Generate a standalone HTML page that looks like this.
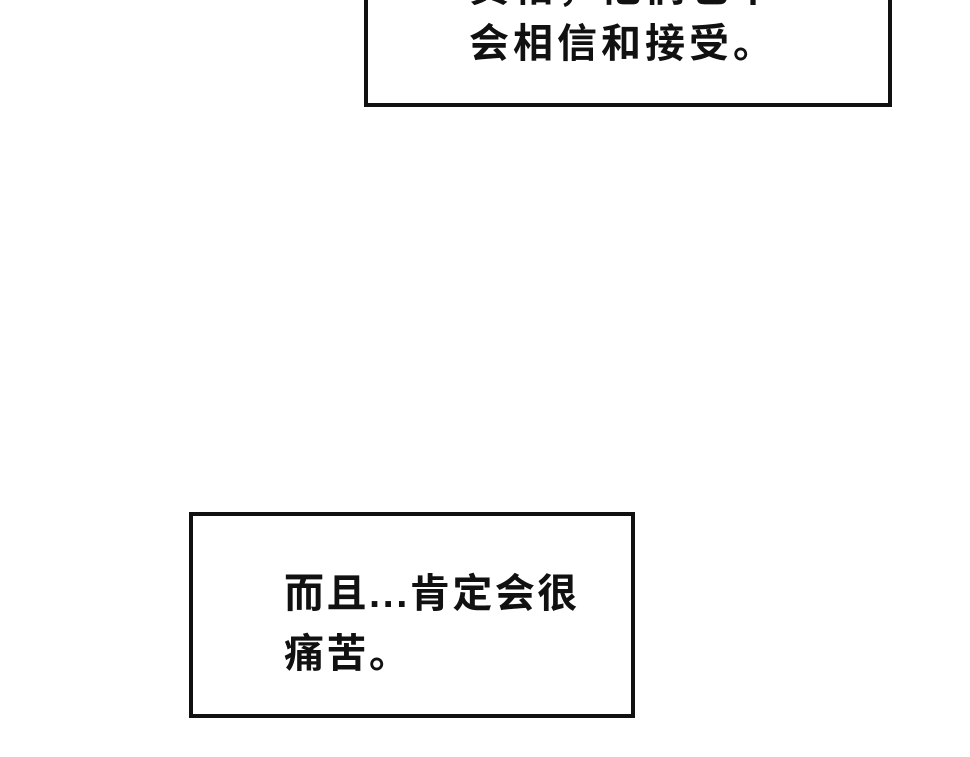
<!DOCTYPE html>
<html><head><meta charset="utf-8"><style>
body{margin:0;width:970px;height:757px;background:#fff;position:relative;overflow:hidden;font-family:"Liberation Sans","Noto Sans CJK SC",sans-serif;color:#111}
.box{position:absolute;border:4px solid #111;box-sizing:border-box;background:#fff}
.t{position:absolute;white-space:nowrap;font-size:40px;line-height:56px;font-weight:bold}
</style></head><body>
<div class="box" style="left:364px;top:-10px;width:528px;height:117px"></div>
<div class="t" style="left:469px;top:-40px;font-size:40px;letter-spacing:4px">真相，他们也不<br>会相信和接受。</div>
<div class="box" style="left:189px;top:512px;width:446px;height:206px"></div>
<div class="t" style="left:284px;top:564px;font-size:40px;line-height:60px;letter-spacing:2.5px">而且...肯定会很<br>痛苦。</div>
</body></html>
